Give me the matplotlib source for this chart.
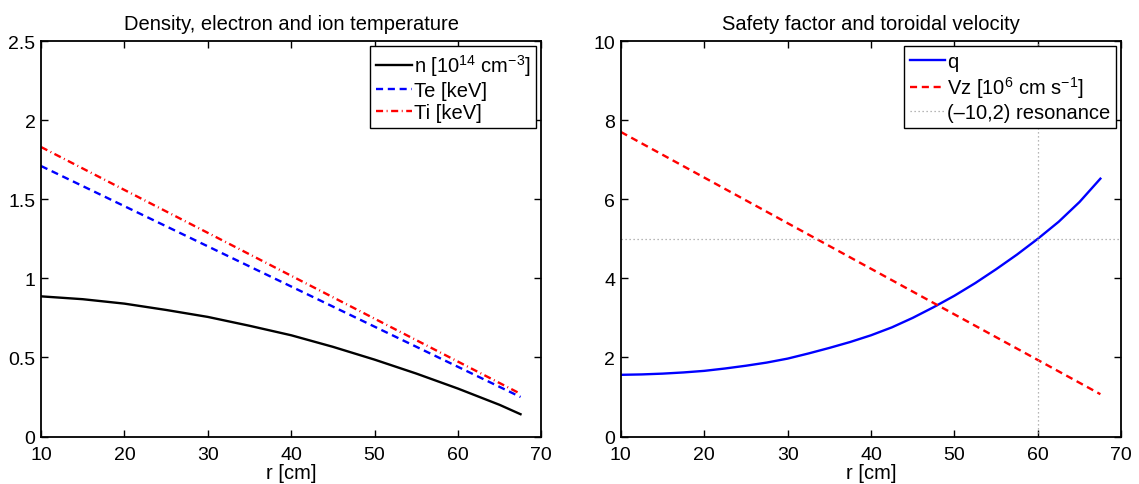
import matplotlib
matplotlib.use("Agg")
import matplotlib.pyplot as plt
from matplotlib.ticker import FuncFormatter

# ---- data ----
r_n = [10, 15, 20, 25, 30, 35, 40, 45, 50, 55, 60, 65, 67.5]
n_vals = [0.886, 0.868, 0.84, 0.80, 0.756, 0.70, 0.64, 0.567, 0.486, 0.398, 0.303, 0.20, 0.141]
r_lin = [10, 67.5]
te_vals = [1.71, 0.25]
ti_vals = [1.83, 0.27]

r_q = [10, 12.5, 15, 17.5, 20, 22.5, 25, 27.5, 30, 32.5, 35, 37.5, 40, 42.5,
       45, 47.5, 50, 52.5, 55, 57.5, 60, 62.5, 65, 67.5]
q_vals = [1.56, 1.57, 1.59, 1.62, 1.66, 1.72, 1.79, 1.87, 1.97, 2.10, 2.24, 2.39,
          2.56, 2.76, 3.00, 3.27, 3.56, 3.88, 4.23, 4.60, 5.00, 5.43, 5.93, 6.52]
vz_vals = [7.7, 1.07]
res_r = 60
res_q = 5

left_yticks = [0, 0.5, 1, 1.5, 2, 2.5]
right_yticks = [0, 2, 4, 6, 8, 10]
xticks = [10, 20, 30, 40, 50, 60, 70]

plt.rcParams['font.family'] = ['Liberation Sans', 'DejaVu Sans']
plt.rcParams['mathtext.fontset'] = 'custom'
plt.rcParams['mathtext.rm'] = 'Liberation Sans'
plt.rcParams['mathtext.it'] = 'Liberation Sans:italic'
plt.rcParams['mathtext.bf'] = 'Liberation Sans:bold'

FS_TICK = 14
FS_TXT = 14.5
fig = plt.figure(figsize=(11.39, 4.85), dpi=100)
ax1 = fig.add_axes([0.0360, 0.0979, 0.4393, 0.8155])
ax2 = fig.add_axes([0.5451, 0.0979, 0.4393, 0.8155])

lw = 1.7
ax1.plot(r_n, n_vals, color='black', lw=lw, label=r'n [10$^{14}$ cm$^{-3}$]')
ax1.plot(r_lin, te_vals, color='blue', lw=lw, dashes=(3, 2), label='Te [keV]')
ax1.plot(r_lin, ti_vals, color='red', lw=lw, dashes=(3, 1.5, 0.4, 1.5), label='Ti [keV]')
ax1.set_xlim(10, 70)
ax1.set_ylim(0, 2.5)
ax1.set_yticks(left_yticks)
ax1.yaxis.set_major_formatter(FuncFormatter(lambda v, p: '%g' % v))
ax1.set_title('Density, electron and ion temperature', fontsize=FS_TXT, pad=9)

ax2.plot(r_q, q_vals, color='blue', lw=lw, label='q')
ax2.plot(r_lin, vz_vals, color='red', lw=lw, dashes=(3, 2), label=r'Vz [10$^{6}$ cm s$^{-1}$]')
ax2.axhline(res_q, color='#a0a0a0', lw=0.9, ls=(0, (1, 2.2)), label='(\u201310,2) resonance')
ax2.axvline(res_r, color='#a0a0a0', lw=0.9, ls=(0, (1, 2.2)))
ax2.set_xlim(10, 70)
ax2.set_ylim(0, 10)
ax2.set_yticks(right_yticks)
ax2.set_title('Safety factor and toroidal velocity', fontsize=FS_TXT, pad=9)

for ax in (ax1, ax2):
    ax.set_xticks(xticks)
    ax.set_xlabel('r [cm]', fontsize=FS_TXT, labelpad=0)
    ax.tick_params(axis='both', direction='in', top=True, right=True, length=5, width=1,
                   labelsize=FS_TICK)
    ax.tick_params(axis='x', pad=6.5)
    ax.tick_params(axis='y', pad=4)
    for s in ax.spines.values():
        s.set_linewidth(1.3)
    leg = ax.legend(loc='upper right', fontsize=FS_TXT, frameon=True, fancybox=False,
                    edgecolor='black', framealpha=1, borderaxespad=0.25,
                    handlelength=1.75, handletextpad=0.1, labelspacing=0.15,
                    borderpad=0.3)
    leg.get_frame().set_linewidth(1.0)

fig.savefig('out.png', dpi=100)
